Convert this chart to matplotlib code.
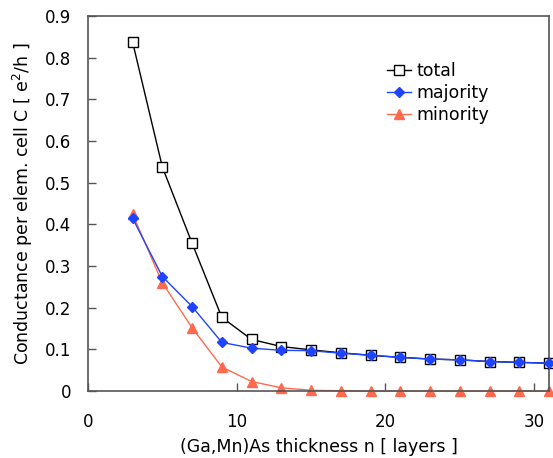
import matplotlib
matplotlib.use('Agg')
import matplotlib.pyplot as plt

# layer thickness n
n = [3, 5, 7, 9, 11, 13, 15, 17, 19, 21, 23, 25, 27, 29, 31]
total = [0.838, 0.538, 0.355, 0.177, 0.124, 0.107, 0.099, 0.092, 0.086, 0.081, 0.077, 0.075, 0.071, 0.069, 0.067]
majority = [0.415, 0.275, 0.203, 0.117, 0.103, 0.098, 0.097, 0.091, 0.086, 0.081, 0.077, 0.075, 0.071, 0.069, 0.067]
minority = [0.425, 0.26, 0.152, 0.058, 0.023, 0.008, 0.002, 0.001, 0.0, 0.0, 0.0, 0.0, 0.0, 0.0, 0.0]

plt.rcParams['font.family'] = ['DejaVu Sans']
fig = plt.figure(figsize=(5.53, 4.58), dpi=100)
ax = fig.add_axes([0.159, 0.146, 0.834, 0.819])

ax.plot(n, total, color='black', lw=1.0, marker='s', ms=6.5, mfc='white', mec='black', mew=1.0,
        label='total', zorder=3, clip_on=False)
ax.plot(n, majority, color='#1f44ff', lw=1.0, marker='D', ms=5, mfc='#1f44ff', mec='#1f44ff',
        label='majority', zorder=4, clip_on=False)
ax.plot(n, minority, color='#ff6a4f', lw=1.0, marker='^', ms=7, mfc='#ff6a4f', mec='#ff6a4f',
        label='minority', zorder=2, clip_on=False)

ax.set_xlim(0, 31)
ax.set_ylim(0, 0.9)
ax.set_xticks([0, 10, 20, 30])
ax.set_yticks([0, 0.1, 0.2, 0.3, 0.4, 0.5, 0.6, 0.7, 0.8, 0.9])
ax.set_yticklabels(['0', '0.1', '0.2', '0.3', '0.4', '0.5', '0.6', '0.7', '0.8', '0.9'])
ax.tick_params(direction='in', length=6, width=1, colors='#555555', labelcolor='black', labelsize=12)
ax.tick_params(axis='x', pad=16)
ax.tick_params(axis='y', pad=12)
for s in ax.spines.values():
    s.set_color('#555555')
    s.set_linewidth(1.2)

ax.set_xlabel('(Ga,Mn)As thickness n [ layers ]', fontsize=12.5, labelpad=5)
ax.set_ylabel('Conductance per elem. cell C [ e$^2$/h ]', fontsize=12.5, labelpad=7)

ax.legend(loc='upper left', bbox_to_anchor=(0.615, 0.92), frameon=False, fontsize=12.5,
          handlelength=1.4, handletextpad=0.3, labelspacing=0.25)

fig.savefig('out.png', dpi=100)
